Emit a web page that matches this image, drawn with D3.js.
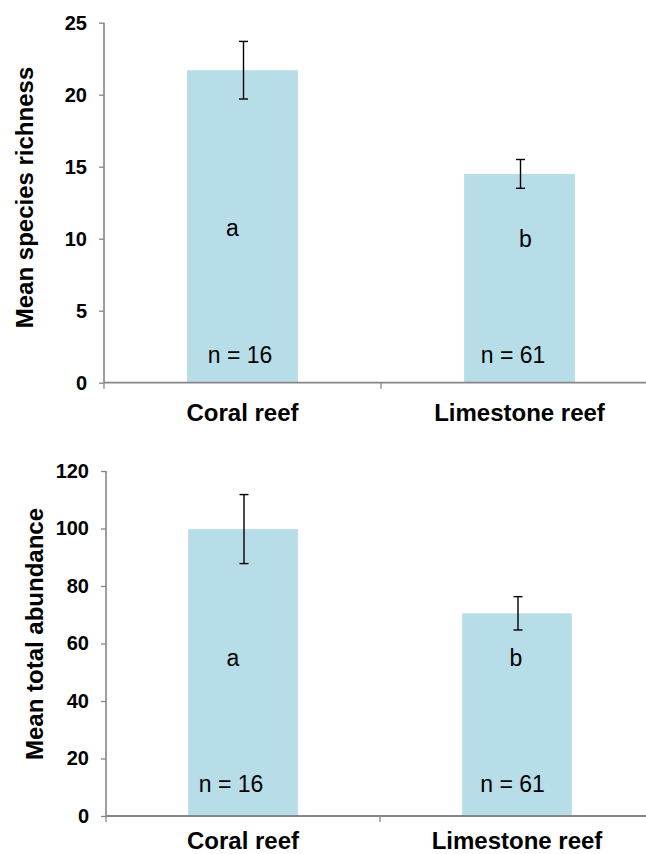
<!DOCTYPE html>
<html>
<head>
<meta charset="utf-8">
<script src="https://cdn.jsdelivr.net/npm/d3@7"></script>
<style>
  html, body { margin: 0; padding: 0; background: #fff; }
  svg { display: block; }
  text { font-family: "Liberation Sans", Arial, Helvetica, sans-serif; fill: #000; }
</style>
</head>
<body>
<div id="chart"></div>
<script>
// ---- data ----
const categories = ["Coral reef", "Limestone reef"];
const richnessMean = [21.7, 14.5];
const richnessSE = [2.0, 1.0];
const abundanceMean = [99.8, 70.5];
const abundanceSE = [12.0, 5.8];
const groupLetters = ["a", "b"];
const sampleSizes = [16, 61];
const richnessTicks = [0, 5, 10, 15, 20, 25];
const abundanceTicks = [0, 20, 40, 60, 80, 100, 120];
const richnessTitle = "Mean species richness";
const abundanceTitle = "Mean total abundance";

const W = 646, H = 854;
const svg = d3.select("#chart").append("svg").attr("width", W).attr("height", H);

const axisColor = "#868686";
const barColor = "#b7dde8";

function panel(cfg) {
  const g = svg.append("g");
  const x = d3.scaleBand().domain(categories)
    .range([cfg.x0, cfg.x1]).paddingInner(0.6).paddingOuter(0.3);
  const y = d3.scaleLinear().domain([0, cfg.max]).range([cfg.yBottom, cfg.yTop]);
  const step = x.step();

  const rows = categories.map((c, i) => ({ c, m: cfg.mean[i], se: cfg.se[i], letter: groupLetters[i], n: sampleSizes[i], i }));

  // bars
  g.selectAll("rect.bar").data(rows).enter().append("rect")
    .attr("class", "bar")
    .attr("x", d => x(d.c))
    .attr("width", x.bandwidth())
    .attr("y", d => y(d.m))
    .attr("height", d => y(0) - y(d.m))
    .attr("fill", barColor);

  // y axis
  const yAxis = d3.axisLeft(y).tickValues(cfg.ticks).tickSize(5).tickPadding(12).tickFormat(d3.format("d"));
  const ya = g.append("g").attr("transform", `translate(${cfg.x0},0)`).call(yAxis);
  ya.select(".domain").attr("stroke", axisColor).attr("stroke-width", 1.6)
    .attr("d", `M0,${cfg.yTop}V${cfg.yBottom}`);
  ya.selectAll(".tick line").attr("stroke", axisColor).attr("stroke-width", 1.3);
  ya.selectAll(".tick text").style("font-size", "20px").style("font-weight", "bold")
    .style("font-family", '"Liberation Sans", Arial, Helvetica, sans-serif').attr("fill", "#000");

  // x axis line with boundary ticks
  g.append("line").attr("x1", cfg.x0).attr("x2", cfg.x1)
    .attr("y1", y(0)).attr("y2", y(0))
    .attr("stroke", axisColor).attr("stroke-width", 1.8);
  const bounds = [0, 1, 2].map(k => cfg.x0 + k * step);
  g.selectAll("line.xt").data(bounds).enter().append("line")
    .attr("x1", d => d).attr("x2", d => d)
    .attr("y1", y(0)).attr("y2", y(0) + 6)
    .attr("stroke", axisColor).attr("stroke-width", 1.3);

  // category labels
  g.selectAll("text.cat").data(rows).enter().append("text")
    .attr("x", d => x(d.c) + x.bandwidth() / 2)
    .attr("y", y(0) + cfg.catDy)
    .attr("text-anchor", "middle")
    .style("font-size", "24px").style("font-weight", "bold")
    .text(d => d.c);

  // error bars
  const cx = d => x(d.c) + x.bandwidth() / 2 + 1;
  const eb = g.selectAll("g.err").data(rows).enter().append("g");
  eb.append("line").attr("x1", cx).attr("x2", cx)
    .attr("y1", d => y(d.m + d.se)).attr("y2", d => y(d.m - d.se))
    .attr("stroke", "#000").attr("stroke-width", 1.4);
  eb.append("line").attr("x1", d => cx(d) - 4.5).attr("x2", d => cx(d) + 4.5)
    .attr("y1", d => y(d.m + d.se)).attr("y2", d => y(d.m + d.se))
    .attr("stroke", "#000").attr("stroke-width", 1.4);
  eb.append("line").attr("x1", d => cx(d) - 4.5).attr("x2", d => cx(d) + 4.5)
    .attr("y1", d => y(d.m - d.se)).attr("y2", d => y(d.m - d.se))
    .attr("stroke", "#000").attr("stroke-width", 1.4);

  // group letters
  g.selectAll("text.letter").data(rows).enter().append("text")
    .attr("x", d => x(d.c) + x.bandwidth() / 2 + cfg.letterDx[d.i])
    .attr("y", d => cfg.letterY[d.i])
    .attr("text-anchor", "middle")
    .style("font-size", "23px")
    .text(d => d.letter);

  // sample sizes
  g.selectAll("text.n").data(rows).enter().append("text")
    .attr("x", d => x(d.c) + x.bandwidth() / 2 + cfg.nDx[d.i])
    .attr("y", cfg.nY)
    .attr("text-anchor", "middle")
    .style("font-size", "23px")
    .text(d => "n = " + d.n);

  // y title
  g.append("text")
    .attr("transform", `translate(${cfg.titleX},${cfg.titleY}) rotate(-90)`)
    .attr("text-anchor", "middle")
    .style("font-size", "24px").style("font-weight", "bold")
    .text(cfg.title);
}

panel({
  x0: 104, x1: 658, yTop: 22.7, yBottom: 382.7, max: 25,
  mean: richnessMean, se: richnessSE, ticks: richnessTicks,
  letterDx: [-10, 6], letterY: [236, 246.7], nDx: [-2.5, -6.5], nY: 363,
  catDy: 38, title: richnessTitle, titleX: 33.3, titleY: 197.5
});

panel({
  x0: 106, x1: 654, yTop: 471, yBottom: 816, max: 120,
  mean: abundanceMean, se: abundanceSE, ticks: abundanceTicks,
  letterDx: [-10, -1], letterY: [666, 665.7], nDx: [-12, -4.5], nY: 791.7,
  catDy: 33, title: abundanceTitle, titleX: 42.7, titleY: 634
});
</script>
</body>
</html>
